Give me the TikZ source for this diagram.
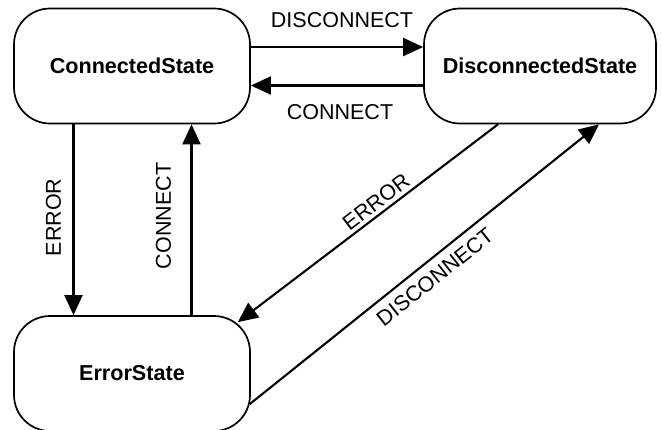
\documentclass[tikz,border=0pt]{standalone}
\usepackage{fontspec}
\setmainfont{Liberation Sans}
\usetikzlibrary{arrows.meta,calc}
\begin{document}
\begin{tikzpicture}[x=1pt,y=-1pt,
 state/.style={draw, line width=1.7pt, rounded corners=36pt, minimum width=236pt, minimum height=115pt, inner sep=0pt, font=\fontsize{21.6}{24}\selectfont\bfseries},
 arr/.style={line width=2.1pt, -{Triangle[length=20pt,width=18pt]}},
 lbl/.style={font=\fontsize{21.5}{24}\selectfont, inner sep=0pt}]
\useasboundingbox (0,0) rectangle (662,429);
\begin{scope}
\clip (0,0) rectangle (662,429);
\node[state] (C) at (132,66) {ConnectedState};
\node[state, minimum width=232pt] (D) at (540,66) {DisconnectedState};
\node[state] (E) at (132,373.5) {ErrorState};

\draw[arr] ($(C.east)+(0,-19)$) -- ($(D.west)+(0,-19)$);
\draw[arr] ($(D.west)+(0,19.5)$) -- ($(C.east)+(0,19.5)$);
\draw[arr] ($(C.south)+(-58.5,0)$) -- ($(E.north)+(-58.5,0)$);
\draw[arr] ($(E.north)+(59.5,0)$) -- ($(C.south)+(59.5,0)$);
\draw[arr] ($(D.south)+(-42,0)$) -- ($(E.north east)+(-13,7)$);
\draw[arr] ($(E.east)+(-1,30.5)$) -- ($(D.south)+(59,0)$);

\node[lbl] (l1) at (342,20) {DISCONNECT};
\node[lbl] (l2) at (340,112) {CONNECT};
\node[lbl, rotate=90] (l3) at (53.5,217.5) {ERROR};
\node[lbl, rotate=90] (l4) at (163.5,216) {CONNECT};
\node[lbl, rotate=37.3] (l5) at (376,202) {ERROR};
\node[lbl, rotate=38.5] (l6) at (435,277) {DISCONNECT};
\end{scope}
\end{tikzpicture}
\end{document}
